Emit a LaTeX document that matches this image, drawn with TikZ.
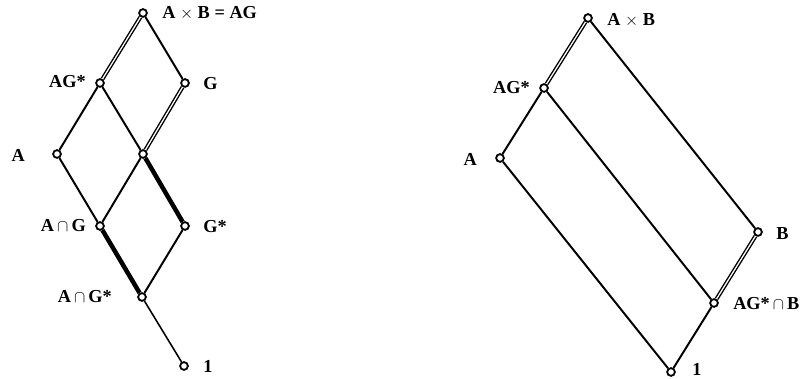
\documentclass[tikz,border=0pt]{standalone}
\usepackage{fontspec}
\setmainfont{Liberation Serif}
\usetikzlibrary{backgrounds}
\pgfdeclarelayer{edgelayer}
\pgfdeclarelayer{nodelayer}
\pgfsetlayers{background,edgelayer,nodelayer,main}
\tikzstyle{none}=[inner sep=0mm]
\tikzstyle{vx}=[shape=circle,draw=black,fill=white,line width=1.3pt,minimum width=5.5pt,inner sep=0pt]
\tikzstyle{lbl}=[inner sep=0mm,font=\fontsize{13}{15}\selectfont\bfseries]
\tikzstyle{ln}=[line width=1.4pt]
\tikzstyle{thinln}=[line width=1.1pt]
\tikzstyle{thk}=[line width=3.2pt]
\tikzstyle{dbl}=[double,line width=1pt,double distance=0.9pt]

\begin{document}
\begin{tikzpicture}[x=0.025cm,y=-0.025cm]
	\useasboundingbox (0,0) rectangle (807,379);
	\begin{pgfonlayer}{nodelayer}
		% left lattice
		\node [style=vx] (ab) at (143, 13) {};
		\node [style=vx] (ags) at (100, 83) {};
		\node [style=vx] (g) at (185, 83) {};
		\node [style=vx] (a) at (57, 154) {};
		\node [style=vx] (c) at (143, 154) {};
		\node [style=vx] (ag) at (100, 226) {};
		\node [style=vx] (gs) at (185, 226) {};
		\node [style=vx] (agst) at (142, 297) {};
		\node [style=vx] (one) at (184, 366) {};
		% right lattice
		\node [style=vx] (rab) at (588, 18) {};
		\node [style=vx] (rags) at (544, 88) {};
		\node [style=vx] (ra) at (500, 158) {};
		\node [style=vx] (rb) at (758, 232) {};
		\node [style=vx] (ragb) at (714, 303) {};
		\node [style=vx] (rone) at (671, 372) {};
		% labels
		\node [style=lbl, anchor=west] (tab) at (162, 13) {A $\times$ B = AG};
		\node [style=lbl, anchor=east] (tags) at (86, 82) {AG*};
		\node [style=lbl, anchor=west] (tg) at (203, 84) {G};
		\node [style=lbl, anchor=east] (ta) at (25, 155) {A};
		\node [style=lbl, anchor=east] (tag) at (86, 226) {A\,$\cap$\,G};
		\node [style=lbl, anchor=west] (tgs) at (203, 227) {G*};
		\node [style=lbl, anchor=east] (tagst) at (112, 297) {A\,$\cap$\,G*};
		\node [style=lbl, anchor=west] (tone) at (203, 366) {1};
		\node [style=lbl, anchor=west] (trab) at (607, 20) {A $\times$ B};
		\node [style=lbl, anchor=east] (trags) at (530, 88) {AG*};
		\node [style=lbl, anchor=east] (tra) at (477, 159) {A};
		\node [style=lbl, anchor=west] (trb) at (776, 234) {B};
		\node [style=lbl, anchor=west] (tragb) at (733, 304) {AG*\,$\cap$\,B};
		\node [style=lbl, anchor=west] (trone) at (692, 369) {1};
	\end{pgfonlayer}
	\begin{pgfonlayer}{edgelayer}
		\draw [style=dbl] (ab) to (ags);
		\draw [style=ln] (ab) to (g);
		\draw [style=ln] (ags) to (a);
		\draw [style=ln] (ags) to (c);
		\draw [style=dbl] (g) to (c);
		\draw [style=ln] (a) to (ag);
		\draw [style=ln] (c) to (ag);
		\draw [style=thk] (c) to (gs);
		\draw [style=thk] (ag) to (agst);
		\draw [style=ln] (gs) to (agst);
		\draw [style=thinln] (agst) to (one);
		\draw [style=dbl] (rab) to (rags);
		\draw [style=ln] (rags) to (ra);
		\draw [style=ln] (rab) to (rb);
		\draw [style=ln] (rags) to (ragb);
		\draw [style=ln] (ra) to (rone);
		\draw [style=dbl] (rb) to (ragb);
		\draw [style=ln] (ragb) to (rone);
	\end{pgfonlayer}
\end{tikzpicture}
\end{document}
